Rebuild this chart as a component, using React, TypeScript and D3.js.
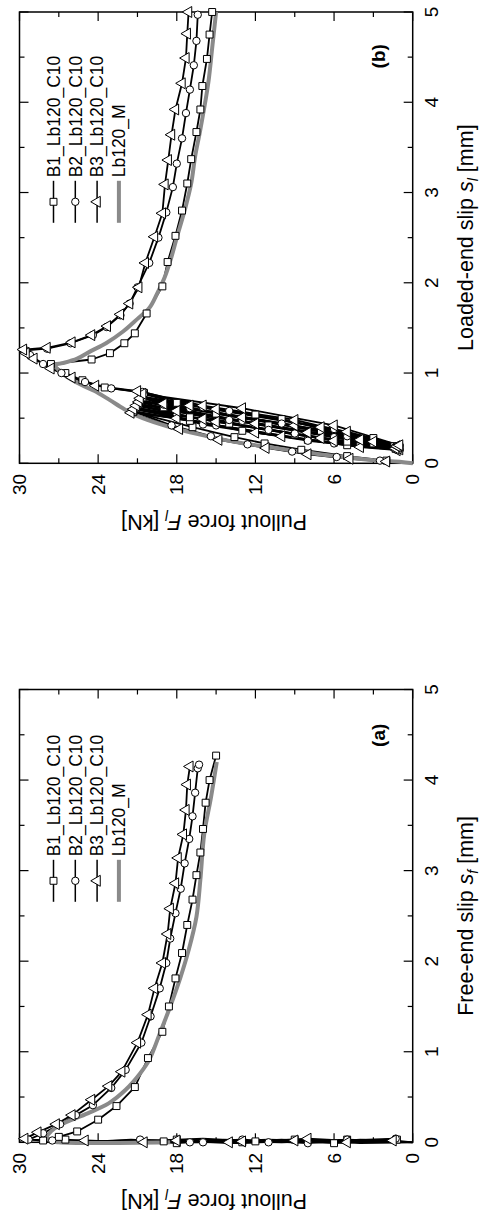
import * as d3 from "d3";

type Pt = [number, number]; // [slip mm, force kN]

const W = 484;
const H = 1228;
// the figure is laid out landscape (H wide, W tall) and then turned 90deg counter-clockwise

const slipTicks = [0, 1, 2, 3, 4, 5];
const slipMinor = [0.5, 1.5, 2.5, 3.5, 4.5];
const forceTicks = [0, 6, 12, 18, 24, 30];
const forceMinor = [3, 9, 15, 21, 27];
const seriesNames = ["B1_Lb120_C10", "B2_Lb120_C10", "B3_Lb120_C10", "Lb120_M"];

// ---------- (a) free-end slip ----------
const freeB1Cycles: Pt[] = [
  [0, 0], [0.02, 3], [-0.01, 6], [0.03, 9], [0, 12], [0.02, 15], [-0.01, 18], [0.02, 21],
  [0.03, 17], [0, 13], [0.03, 9], [0.01, 5], [0.03, 1.2],
  [0, 4], [0.03, 8], [0.01, 12], [0.04, 16], [0.01, 21.3],
  [0.03, 18], [0, 14], [0.02, 10], [-0.01, 6], [0.02, 2], [0, 1],
  [0.03, 5], [0, 10], [0.02, 15], [0.01, 19], [0.03, 21.5], [0.01, 24], [0.03, 26.5],
];
const freeB1Post: Pt[] = [
  [0.02, 28.2], [0.06, 27.0], [0.12, 25.6], [0.25, 24.0], [0.4, 22.6], [0.61, 21.2], [0.93, 20.2],
  [1.22, 19.1], [1.5, 18.6], [1.81, 18.1], [2.09, 17.6], [2.4, 17.2], [2.68, 16.8], [2.95, 16.5],
  [3.2, 16.2], [3.46, 16.0], [3.75, 15.8], [4.0, 15.5], [4.27, 15.0],
];
const freeB2Cycles: Pt[] = [
  [0, 0], [-0.01, 4], [0.02, 8], [0, 11], [0.03, 14], [0.01, 18], [0.03, 20.8],
  [0, 16], [0.02, 12], [-0.01, 8], [0.03, 4], [0.01, 1],
  [0.03, 5], [0, 9], [0.02, 13], [0, 17], [0.03, 21],
  [0.01, 17], [0.03, 13], [0, 9], [0.02, 5], [0.04, 1.3],
  [0.01, 6], [0.03, 11], [0, 16], [0.02, 21.2], [0.01, 24.5], [0.02, 27.5],
];
const freeB2Post: Pt[] = [
  [0.03, 29.3], [0.1, 28.2], [0.2, 26.9], [0.3, 25.7], [0.41, 24.4], [0.6, 23.0], [0.8, 21.9],
  [1.1, 20.7], [1.39, 20.0], [1.7, 19.3], [1.98, 18.8], [2.25, 18.5], [2.53, 18.1], [2.8, 17.7],
  [3.08, 17.4], [3.35, 17.05], [3.6, 16.8], [3.86, 16.6], [4.13, 16.4], [4.17, 16.3],
];
const freeB3Cycles: Pt[] = [
  [0, 0], [0.03, 2], [0, 5], [0.02, 9], [-0.01, 13], [0.02, 17], [0, 20.5],
  [0.03, 16], [0.01, 12], [0.04, 8], [0.01, 4], [0.03, 1.1],
  [0, 5], [0.02, 10], [-0.01, 14], [0.02, 18], [0, 21.4],
  [0.02, 18], [0, 14], [0.03, 10], [0, 6], [0.02, 1.5],
  [0, 5], [0.02, 9], [0.01, 13], [0.03, 17], [0, 21], [0.02, 25], [0.01, 28],
];
const freeB3Post: Pt[] = [
  [0.04, 29.6], [0.11, 28.6], [0.2, 27.2], [0.3, 26.0], [0.47, 24.5], [0.62, 23.2], [0.78, 22.2],
  [1.1, 21.0], [1.41, 20.2], [1.7, 19.7], [1.98, 19.1], [2.3, 18.7], [2.58, 18.5], [2.86, 18.1],
  [3.14, 17.9], [3.4, 17.5], [3.67, 17.3], [3.95, 17.2], [4.15, 17.0],
];
const freeModel: Pt[] = [
  [0, 18.5], [0, 27.0], [0.02, 27.7], [0.06, 27.9], [0.12, 27.6], [0.2, 26.8], [0.32, 24.8],
  [0.43, 23.2], [0.58, 21.9], [0.76, 20.8], [0.91, 20.1], [1.2, 19.3], [1.5, 18.5], [1.83, 17.7],
  [2.12, 17.1], [2.49, 16.5], [2.9, 16.2], [3.41, 15.9], [3.8, 15.4], [4.2, 14.95],
];

// ---------- (b) loaded-end slip ----------
// initial loading, then unload/reload cycles, then loading up to the peak
const loadB1Cycles: Pt[] = [
  [0, 0], [0.03, 2], [0.08, 5], [0.15, 8.5], [0.22, 11.3], [0.29, 13.6], [0.4, 16.8], [0.57, 21.3],
  [0.47, 17], [0.26, 8], [0.15, 1.1], [0.2, 5], [0.36, 13], [0.61, 21.1],
  [0.44, 14], [0.24, 5], [0.16, 1.3], [0.32, 9], [0.51, 17], [0.65, 21.0],
  [0.62, 19], [0.42, 11], [0.17, 1.0], [0.22, 3], [0.44, 12], [0.69, 20.8],
  [0.56, 15], [0.37, 7], [0.18, 1.2], [0.36, 7], [0.55, 15], [0.73, 20.6],
  [0.54, 12], [0.28, 3], [0.19, 1.4], [0.49, 10], [0.67, 18], [0.78, 20.5],
  [0.84, 23.5], [0.92, 25.2], [1.0, 26.5],
];
const loadB1Post: Pt[] = [
  [1.1, 27.6], [1.15, 24.5], [1.22, 23.1], [1.33, 22.0], [1.44, 21.2], [1.66, 20.3], [1.96, 19.1],
  [2.23, 18.7], [2.52, 18.1], [2.8, 17.6], [3.1, 17.2], [3.37, 16.9], [3.67, 16.5], [3.92, 16.2],
  [4.18, 16.05], [4.48, 15.7], [4.75, 15.5], [5.0, 15.3],
];
const loadB2Cycles: Pt[] = [
  [0, 0], [0.03, 2.5], [0.07, 5.8], [0.13, 9.2], [0.21, 12.6], [0.3, 15.4], [0.42, 18.4], [0.58, 21.4],
  [0.42, 15], [0.22, 6], [0.15, 1.0], [0.25, 8], [0.43, 16], [0.62, 21.2],
  [0.54, 18], [0.33, 9], [0.165, 1.2], [0.21, 4], [0.37, 11], [0.66, 21.0],
  [0.47, 13], [0.26, 4], [0.175, 1.1], [0.29, 6], [0.48, 14], [0.7, 20.9],
  [0.61, 17], [0.44, 10], [0.185, 1.3], [0.3, 5], [0.65, 19], [0.74, 20.7],
  [0.58, 14], [0.38, 6], [0.2, 1.0], [0.46, 9], [0.62, 16], [0.79, 20.6],
  [0.83, 23.0], [0.9, 25.0], [1.0, 26.8], [1.1, 28.2], [1.2, 29.2],
];
const loadB2Post: Pt[] = [
  [1.25, 29.5], [1.27, 27.9], [1.33, 26.1], [1.42, 24.4], [1.51, 23.35], [1.64, 22.3], [1.77, 21.6],
  [1.95, 21.0], [2.22, 20.1], [2.5, 19.4], [2.78, 18.8], [3.06, 18.3], [3.32, 18.0], [3.6, 17.6],
  [3.88, 17.3], [4.14, 17.0], [4.41, 16.7], [4.68, 16.5], [4.97, 16.4],
];
const loadB3Cycles: Pt[] = [
  [0, 0], [0.02, 2], [0.05, 4.8], [0.1, 8], [0.17, 11.2], [0.26, 14.8], [0.38, 17.8], [0.56, 21.5],
  [0.5, 18], [0.3, 10], [0.145, 1.2], [0.18, 4], [0.34, 12], [0.6, 21.3],
  [0.49, 16], [0.28, 7], [0.155, 1.0], [0.25, 6], [0.46, 15], [0.64, 21.1],
  [0.44, 12], [0.26, 4], [0.165, 1.3], [0.34, 8], [0.58, 18], [0.68, 20.9],
  [0.66, 19], [0.42, 9], [0.18, 1.1], [0.24, 3], [0.51, 13], [0.72, 20.8],
  [0.6, 15], [0.35, 5], [0.19, 1.2], [0.4, 7], [0.64, 17], [0.77, 20.6],
  [0.61, 13], [0.42, 6], [0.2, 1.0], [0.48, 9], [0.64, 16], [0.8, 21.0],
  [0.86, 24.2], [0.95, 26.0], [1.05, 27.6], [1.16, 28.9], [1.22, 29.5],
];
const loadB3Post: Pt[] = [
  [1.26, 29.7], [1.28, 27.9], [1.34, 26.0], [1.42, 24.5], [1.52, 23.3], [1.65, 22.3], [1.77, 21.6],
  [1.95, 20.9], [2.22, 20.4], [2.51, 19.7], [2.77, 19.1], [3.09, 18.9], [3.36, 18.65], [3.64, 18.4],
  [3.92, 18.1], [4.21, 17.6], [4.49, 17.3], [4.76, 17.2], [5.0, 17.1],
];
const loadModel: Pt[] = [
  [0, 0], [0.018, 1.0], [0.037, 3.2], [0.08, 6.0], [0.13, 8.6], [0.18, 11.0], [0.24, 13.7],
  [0.32, 16.3], [0.405, 18.6], [0.5, 20.6], [0.6, 22.0], [0.7, 23.1], [0.78, 24.0], [0.87, 25.3],
  [0.97, 26.5], [1.03, 27.0], [1.09, 27.3], [1.11, 26.7], [1.16, 25.6], [1.24, 24.6], [1.33, 23.4],
  [1.46, 22.1], [1.6, 21.0], [1.72, 20.1], [1.88, 19.5], [2.07, 18.9], [2.29, 18.4], [2.5, 18.0],
  [2.8, 17.4], [3.1, 16.9], [3.4, 16.6], [3.7, 16.2], [4.21, 15.6], [4.6, 15.3], [5.0, 15.0],
];

const FONT = "'Liberation Sans', Arial, Helvetica, sans-serif";
const GRAY = "#8a8a8a";
const top = 19.5;
const bottom = 412.7;

type Spec = { cycles: Pt[]; post: Pt[]; step: number };

function Marker({ kind, cx, cy }: { kind: number; cx: number; cy: number }) {
  if (kind === 1) {
    return <circle cx={cx} cy={cy} r={3.7} fill="#fff" stroke="#000" strokeWidth={1} />;
  }
  const sym = d3.symbol().type(kind === 0 ? d3.symbolSquare : d3.symbolTriangle).size(kind === 0 ? 48 : 52);
  return <path d={sym() || ""} transform={`translate(${cx},${cy})`} fill="#fff" stroke="#000" strokeWidth={1} />;
}

function Panel({ x0, x1, specs, model, tag, xTitle }: {
  x0: number; x1: number; specs: Spec[]; model: Pt[]; tag: string; xTitle: any;
}) {
  const x = d3.scaleLinear().domain([0, 5]).range([x0, x1]);
  const y = d3.scaleLinear().domain([0, 30]).range([bottom, top]);
  const line = d3.line<Pt>().x(d => x(d[0])).y(d => y(d[1]));
  const smooth = d3.line<Pt>().x(d => x(d[0])).y(d => y(d[1])).curve(d3.curveCatmullRom.alpha(0.5));

  const markers = specs.map((s, k) => [
    ...s.cycles.filter((_, i) => i % s.step === 0 && i > 0),
    ...s.post,
  ].map((d, i) => <Marker key={`${k}-${i}`} kind={k} cx={x(d[0])} cy={y(d[1])} />));

  const legendX = x0 + 240.5;
  return (
    <g>
      {/* frame */}
      <rect x={x0} y={top} width={x1 - x0} height={bottom - top} fill="none" stroke="#000" strokeWidth={1.5} />
      {slipTicks.concat(slipMinor).map(t => {
        const len = Number.isInteger(t) ? 9 : 5;
        return (
          <g key={"s" + t}>
            <line x1={x(t)} x2={x(t)} y1={bottom} y2={bottom - len} stroke="#000" strokeWidth={1.2} />
            <line x1={x(t)} x2={x(t)} y1={top} y2={top + len} stroke="#000" strokeWidth={1.2} />
          </g>
        );
      })}
      {forceTicks.concat(forceMinor).map(t => {
        const len = t % 6 === 0 ? 9 : 5;
        return (
          <g key={"f" + t}>
            <line x1={x0} x2={x0 + len} y1={y(t)} y2={y(t)} stroke="#000" strokeWidth={1.2} />
            <line x1={x1} x2={x1 - len} y1={y(t)} y2={y(t)} stroke="#000" strokeWidth={1.2} />
          </g>
        );
      })}
      {slipTicks.map(t => (
        <text key={"sl" + t} x={x(t)} y={437.5} textAnchor="middle" fontSize={19} fontFamily={FONT}>{t}</text>
      ))}
      {forceTicks.map(t => (
        <text key={"fl" + t} x={x0 - 10.5} y={y(t) + 6.6} textAnchor="end" fontSize={19} fontFamily={FONT}>{t}</text>
      ))}

      {/* axis titles */}
      <text x={(x0 + x1) / 2} y={473} textAnchor="middle" fontSize={21.5} fontFamily={FONT}>{xTitle}</text>
      <text transform={`translate(${x0 - 52},${(top + bottom) / 2 - 2}) rotate(-90)`} textAnchor="middle" fontSize={21.5} fontFamily={FONT}>
        Pullout force <tspan fontStyle="italic">F</tspan>
        <tspan fontStyle="italic" fontSize={14} dy={5}>l</tspan>
        <tspan dy={-5}>{"  [kN]"}</tspan>
      </text>

      {/* data */}
      {specs.map((s, k) => (
        <path key={"l" + k} d={line(s.cycles.concat(s.post)) || ""} fill="none" stroke="#000" strokeWidth={1.8} strokeLinejoin="round" />
      ))}
      <path d={smooth(model) || ""} fill="none" stroke={GRAY} strokeWidth={4} strokeLinejoin="round" />
      {markers}

      {/* legend */}
      {seriesNames.map((name, i) => {
        const ly = 53.5 + i * 21.8;
        const isModel = i === 3;
        return (
          <g key={name}>
            <line x1={legendX} x2={legendX + 42} y1={ly} y2={ly} stroke={isModel ? GRAY : "#000"} strokeWidth={isModel ? 4 : 1.5} />
            {!isModel && <Marker kind={i} cx={legendX + 21} cy={ly} />}
            <text x={legendX + 45.5} y={ly + 6.3} fontSize={17.5} fontFamily={FONT}>{name}</text>
          </g>
        );
      })}

      <text x={x0 + 407} y={384.5} textAnchor="middle" fontSize={19} fontWeight="bold" fontFamily={FONT}>{tag}</text>
    </g>
  );
}

export default function App() {
  const freeSpecs: Spec[] = [
    { cycles: freeB1Cycles, post: freeB1Post, step: 3 },
    { cycles: freeB2Cycles, post: freeB2Post, step: 3 },
    { cycles: freeB3Cycles, post: freeB3Post, step: 3 },
  ];
  const loadSpecs: Spec[] = [
    { cycles: loadB1Cycles, post: loadB1Post, step: 1 },
    { cycles: loadB2Cycles, post: loadB2Post, step: 1 },
    { cycles: loadB3Cycles, post: loadB3Post, step: 1 },
  ];

  return (
    <svg width={W} height={H} style={{ position: "absolute", left: 0, top: 0, background: "#fff" }}>
      <rect width={W} height={H} fill="#fff" />
      <g transform={`translate(0,${H}) rotate(-90)`}>
        <Panel
          x0={85.7} x1={538.5} specs={freeSpecs} model={freeModel} tag="(a)"
          xTitle={<>Free-end slip <tspan fontStyle="italic">s</tspan><tspan fontStyle="italic" fontSize={14} dy={5}>f</tspan><tspan dy={-5}>{"  [mm]"}</tspan></>}
        />
        <Panel
          x0={764.7} x1={1216} specs={loadSpecs} model={loadModel} tag="(b)"
          xTitle={<>Loaded-end slip <tspan fontStyle="italic">s</tspan><tspan fontStyle="italic" fontSize={14} dy={5}>l</tspan><tspan dy={-5}>{"  [mm]"}</tspan></>}
        />
      </g>
    </svg>
  );
}
